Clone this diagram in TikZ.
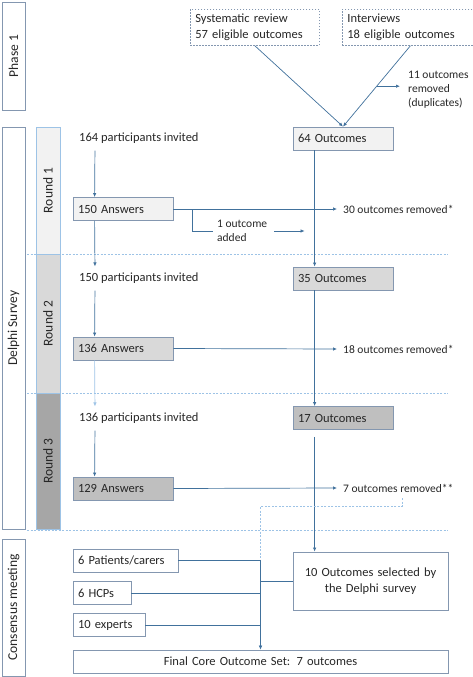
\documentclass[tikz,border=0pt]{standalone}
\usepackage{fontspec}
\setmainfont{Carlito}
\usetikzlibrary{arrows.meta,calc}
\definecolor{linecol}{HTML}{41719C}
\definecolor{boxcol}{HTML}{8497B0}
\definecolor{sepcol}{HTML}{9DC3E6}
\definecolor{txtcol}{HTML}{262626}
\definecolor{fone}{HTML}{F2F2F2}
\definecolor{ftwo}{HTML}{D9D9D9}
\definecolor{fthree}{HTML}{BFBFBF}
\definecolor{rthree}{HTML}{A6A6A6}

\begin{document}
\begin{tikzpicture}[x=1pt,y=-1pt,font=\fontsize{12.5}{16}\selectfont,text=txtcol,
  >={Latex[length=4pt,width=3.5pt]},
  link/.style={draw=linecol,line width=0.7pt},
  dashlink/.style={draw=sepcol,line width=0.8pt,dash pattern=on 2pt off 1.5pt},
  box/.style={draw=boxcol,line width=0.8pt,minimum height=23pt,inner xsep=5pt,inner ysep=0pt,align=left},
  side/.style={rotate=90,draw=boxcol,line width=0.8pt,minimum height=23pt,inner sep=0pt,font=\fontsize{13.5}{16}\selectfont},
  round/.style={side,draw=sepcol,minimum height=24pt},
  source/.style={draw=boxcol,line width=0.8pt,dash pattern=on 1.5pt off 1.5pt,align=left,inner xsep=5pt,anchor=north west,minimum height=36pt},
  txt/.style={inner sep=0pt,anchor=west},
  note/.style={txt,font=\fontsize{11.5}{14}\selectfont,align=left}]

\useasboundingbox (0,0) rectangle (472,677);

% phase labels
\node at (13.5,56) [side,minimum width=108pt] (P1) {Phase 1};
\node at (13.5,328) [side,minimum width=402pt] (DS) {Delphi Survey};
\node at (13.5,607.5) [side,minimum width=137pt] (CM) {Consensus meeting};
\node at (48,190.5) [round,minimum width=127pt,fill=fone] (R1) {Round 1};
\node at (48,323.5) [round,minimum width=139pt,fill=ftwo] (R2) {Round 2};
\node at (48,461) [round,minimum width=136pt,fill=rthree] (R3) {Round 3};

\draw[dashlink] (27,254) -- (448,254);
\draw[dashlink] (27,393) -- (448,393);
\draw[dashlink] (27,530) -- (448,530);

% phase 1
\node at (190,9) [source,text width=119pt] (SR) {Systematic review\\57 eligible outcomes};
\node at (342,9) [source,text width=130pt] (IV) {Interviews\\18 eligible outcomes};
\node at (343,138.5) [box,fill=fone,text width=90pt] (O64) {64 Outcomes};
\node at (408,90) [note] (DUP) {11 outcomes\\removed\\(duplicates)};

\draw[link,->] (SR.south) -- (O64.north);
\draw[link,->] ([xshift=-2pt]IV.south) -- (O64.north);
\coordinate (M) at ($([xshift=-2pt]IV.south)!0.5!(O64.north)$);
\draw[link,->] (M) -- (M -| DUP.west) [shorten >=8pt];

% round 1
\node at (79,138) [txt] (I164) {164 participants invited};
\node at (123,209) [box,fill=fone,text width=90pt] (A150) {150 Answers};
\node at (343,209) [note] (RM30) {30 outcomes removed*};
\node at (217,231) [note] (ADD) {1 outcome\\added};

\draw[link,->,shorten <=7pt] ([xshift=16pt]I164.south west) -- ([xshift=22pt]A150.north west);
\draw[link,->] (A150.east) -- ([xshift=-6pt]RM30.west);
\draw[link] ([xshift=19pt]A150.east) |- ([xshift=-4pt]ADD.west);
\draw[link,->] ([xshift=7pt]ADD.east) -- ($(ADD.east -| O64.west)+(12,0)$);

% round 2
\node at (79,278) [txt] (I150) {150 participants invited};
\node at (343,278.5) [box,fill=ftwo,text width=90pt] (O35) {35 Outcomes};
\node at (123,348.5) [box,fill=ftwo,text width=90pt] (A136) {136 Answers};
\node at (343,349) [note] (RM18) {18 outcomes removed*};

\draw[link,->,shorten >=6pt] ([xshift=22pt]A150.south west) -- ([xshift=16pt]I150.north west);
\draw[link,->] ([xshift=22pt]O64.south west) -- ([xshift=22pt]O35.north west);
\draw[link,->,shorten <=7pt] ([xshift=16pt]I150.south west) -- ([xshift=22pt]A136.north west);
\draw[link,->] (A136.east) -- ([xshift=-6pt]RM18.west);

% round 3
\node at (79,418) [txt] (I136) {136 participants invited};
\node at (343,418) [box,fill=fthree,text width=90pt] (O17) {17 Outcomes};
\node at (123,488.5) [box,fill=fthree,text width=90pt] (A129) {129 Answers};
\node at (343,488) [note] (RM7) {7 outcomes removed**};

\draw[link,->,draw=sepcol,shorten >=6pt] ([xshift=22pt]A136.south west) -- ([xshift=16pt]I136.north west);
\draw[link,->] ([xshift=22pt]O35.south west) -- ([xshift=22pt]O17.north west);
\draw[link,->,shorten <=7pt] ([xshift=16pt]I136.south west) -- ([xshift=22pt]A129.north west);
\draw[link,->] (A129.east) -- ([xshift=-6pt]RM7.west);

% consensus meeting
\node at (370.5,581) [box,text width=145pt,align=center,minimum height=58pt] (O10) {10 Outcomes selected by\\the Delphi survey};
\node at (125.5,560.5) [box,text width=95pt] (PAT) {6 Patients/carers};
\node at (102,593) [box,text width=48pt] (HCP) {6 HCPs};
\node at (109,625) [box,text width=62pt] (EXP) {10 experts};
\node at (260.5,661.5) [box,text width=365pt,align=center] (FIN) {Final Core Outcome Set: 7 outcomes};

\draw[link,->,shorten <=7pt] ([xshift=22pt]O17.south west) -- ([xshift=22pt]O10.north west);
\draw[dashlink,->] ($(RM7.south)+(4,6)$) -- ++(0,8) -| (FIN.north);
\draw[link] (PAT.east) -- (PAT.east -| FIN.north);
\draw[link] (HCP.east) -- (HCP.east -| FIN.north);
\draw[link] (EXP.east) -- (EXP.east -| FIN.north);
\draw[link] (O10.west) -- (O10.west -| FIN.north);
\draw[link,->] (PAT.east -| FIN.north) -- (FIN.north);

\end{tikzpicture}
\end{document}
